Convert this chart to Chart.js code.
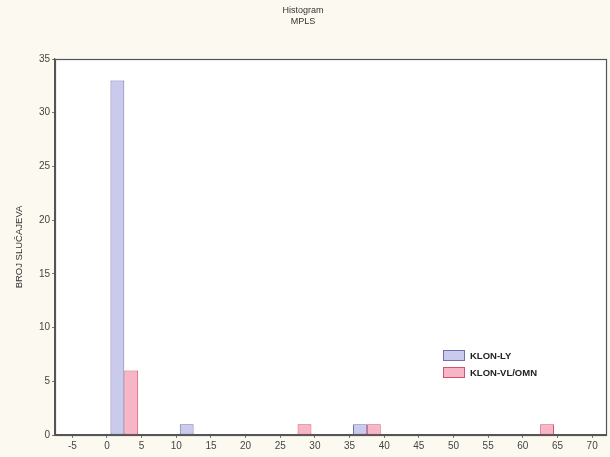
<!DOCTYPE html>
<html>
<head>
<meta charset="utf-8">
<script src="https://cdn.jsdelivr.net/npm/chart.js@4"></script>
<style>
    html, body { margin: 0; padding: 0; background: #fcfaf0; }
    #wrap { width: 610px; height: 457px; }
</style>
</head>
<body>
<div id="wrap"><canvas id="chart" width="610" height="457"></canvas></div>
<script>
// bin centres of the histogram (width 5)
const binCenters = [2.5, 7.5, 12.5, 17.5, 22.5, 27.5, 32.5, 37.5, 42.5, 47.5, 52.5, 57.5, 62.5, 67.5];
const klonLy    = [33, 0, 1, 0, 0, 0, 0, 1, 0, 0, 0, 0, 0, 0];
const klonVlOmn = [6, 0, 0, 0, 0, 1, 0, 1, 0, 0, 0, 0, 1, 0];
const seriesNames = ['KLON-LY', 'KLON-VL/OMN'];
const titleLines = ['Histogram', 'MPLS'];
const yTitle = 'BROJ SLUČAJEVA';

const FONT = '"Liberation Sans", Arial, sans-serif';
const blueFill = 'rgb(202, 202, 236)';
const blueLine = 'rgb(112, 112, 172)';
const pinkFill = 'rgb(246, 182, 198)';
const pinkLine = 'rgb(212, 82, 112)';

function toPoints(values) {
    return binCenters.map((x, i) => ({ x: x, y: values[i] === 0 ? null : values[i] }));
}

// white plot area + full frame
const frame = {
    id: 'frame',
    beforeDraw(chart) {
        const { ctx, chartArea: a } = chart;
        ctx.save();
        ctx.fillStyle = '#ffffff';
        ctx.fillRect(a.left, a.top, a.right - a.left, a.bottom - a.top);
        ctx.restore();
    },
    afterDraw(chart) {
        const { ctx, chartArea: a } = chart;
        ctx.save();
        ctx.strokeStyle = '#555';
        ctx.lineWidth = 1.2;
        ctx.strokeRect(a.left + 0.5, a.top + 0.5, a.right - a.left, a.bottom - a.top);
        ctx.restore();
    }
};

// legend inside the plot, lower right
const innerLegend = {
    id: 'innerLegend',
    afterDraw(chart) {
        const { ctx } = chart;
        const x = 443, y0 = 350;
        ctx.save();
        ctx.font = 'bold 9.5px ' + FONT;
        ctx.textBaseline = 'middle';
        chart.data.datasets.forEach((ds, i) => {
            const y = y0 + i * 17;
            ctx.fillStyle = ds.backgroundColor;
            ctx.fillRect(x, y, 22, 11);
            ctx.strokeStyle = ds.borderColor;
            ctx.lineWidth = 1;
            ctx.strokeRect(x + 0.5, y + 0.5, 21, 10);
            ctx.fillStyle = '#222';
            ctx.fillText(ds.label, x + 27, y + 6);
        });
        ctx.restore();
    }
};

new Chart(document.getElementById('chart'), {
    type: 'bar',
    data: {
        datasets: [{
            label: seriesNames[0],
            data: toPoints(klonLy),
            backgroundColor: blueFill,
            borderColor: blueLine,
            borderWidth: 1,
            borderSkipped: false
        }, {
            label: seriesNames[1],
            data: toPoints(klonVlOmn),
            backgroundColor: pinkFill,
            borderColor: pinkLine,
            borderWidth: 1,
            borderSkipped: false
        }]
    },
    options: {
        responsive: false,
        animation: false,
        devicePixelRatio: 1,
        datasets: {
            bar: { barPercentage: 1, categoryPercentage: 0.8 }
        },
        layout: { padding: { left: 0, right: 4, top: 0, bottom: 0 } },
        plugins: {
            legend: { display: false },
            tooltip: { enabled: false },
            title: {
                display: true,
                text: titleLines,
                color: '#333',
                font: { family: FONT, size: 9, weight: 'normal', lineHeight: 1.25 },
                padding: { top: 5, bottom: 31.5 }
            }
        },
        scales: {
            x: {
                type: 'linear',
                min: -7.5,
                max: 72,
                offset: false,
                grid: { offset: false, drawOnChartArea: false, drawTicks: true, tickLength: 3, color: '#777' },
                border: { display: true, color: '#555', width: 1.2 },
                ticks: {
                    stepSize: 5,
                    includeBounds: false,
                    autoSkip: false,
                    maxRotation: 0,
                    color: '#444',
                    padding: 2,
                    font: { family: FONT, size: 10 }
                },
                afterFit(scale) { scale.height = 22; }
            },
            y: {
                min: 0,
                max: 35,
                grid: { drawOnChartArea: false, drawTicks: true, tickLength: 3, color: '#777' },
                border: { display: true, color: '#555', width: 1.2 },
                ticks: {
                    stepSize: 5,
                    color: '#444',
                    padding: 2,
                    font: { family: FONT, size: 10 }
                },
                title: {
                    display: true,
                    text: yTitle,
                    color: '#333',
                    font: { family: FONT, size: 9.5 },
                    padding: { top: 14, bottom: 0 }
                },
                afterFit(scale) { scale.width = 55; }
            }
        }
    },
    plugins: [frame, innerLegend]
});
</script>
</body>
</html>
